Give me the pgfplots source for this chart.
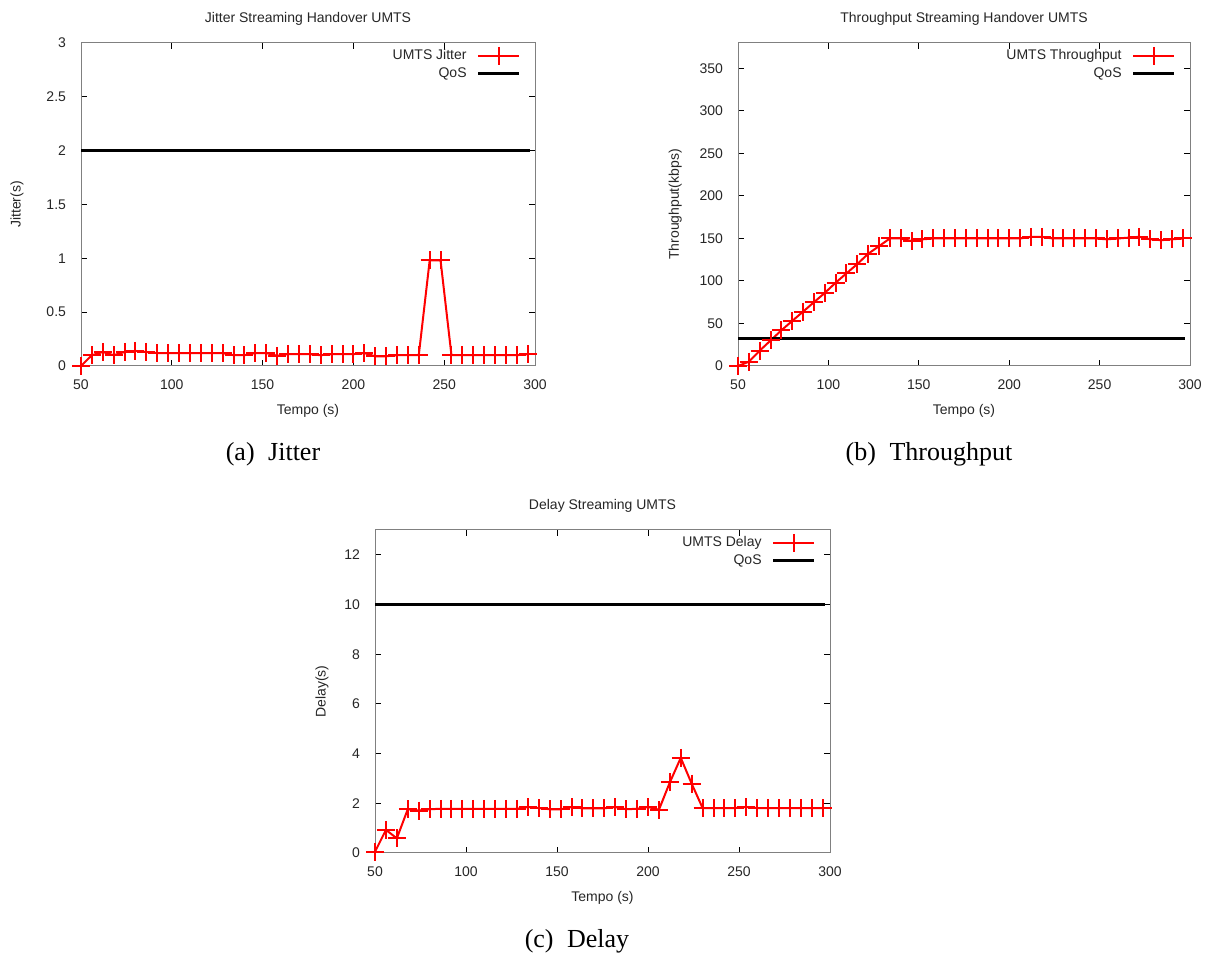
\documentclass[border=0pt]{standalone}
\usepackage{fontspec}
\setmainfont{Liberation Sans}
\newfontfamily\capfont{Liberation Serif}
\usepackage{pgfplots}
\pgfplotsset{compat=1.18}
\pgfplotsset{
  ucommon/.style={
    scale only axis,
    height=161.5pt,
    xmin=50, xmax=300, ymin=0,
    xtick={50,100,150,200,250,300},
    tick align=inside,
    major tick length=3pt,
    minor tick num=0,
    axis line style={draw=gray, line width=0.5pt},
    tick style={black, line width=0.5pt},
    /pgf/number format/assume math mode=true,
    tick label style={font=\fontsize{7}{8}\selectfont, text=black!85},
    xticklabel style={yshift=-3.5pt},
    yticklabel style={xshift=-4pt},
    label style={font=\fontsize{7}{8}\selectfont, text=black!85},
    title style={font=\fontsize{7}{8}\selectfont, text=black!85, at={(axis description cs:0.5,1.0805)}, anchor=center, yshift=-7pt},
    xlabel style={at={(axis description cs:0.5,-0.139)}, anchor=center},
    clip=false,
    legend plot pos=right,
    legend cell align=right,
    legend style={draw=none, fill=none, at={(axis description cs:1,1)}, anchor=north east,
      font=\fontsize{7}{8}\selectfont, text=black!85, row sep=-1.5pt, xshift=-4pt, yshift=1pt,
      /tikz/every odd column/.append style={column sep=3pt}},
    legend image code/.code={\draw[mark repeat=2,mark phase=2] plot coordinates {(0pt,0pt) (10.25pt,0pt) (20.5pt,0pt)};},
  },
  umts/.style={red, line width=1pt, mark=+, mark size=4.5pt, mark options={solid, line width=1pt}},
  qos/.style={black, line width=1.5pt, no markers},
}
\begin{document}
\begin{tikzpicture}
\useasboundingbox (0,0) rectangle (610pt,478pt);

% (a) Jitter
\begin{axis}[ucommon, width=227pt, at={(40.5pt,295pt)}, anchor=south west,
  ymax=3, ytick={0,0.5,1,1.5,2,2.5,3},
  title={Jitter Streaming Handover UMTS},
  xlabel={Tempo (s)}, ylabel={Jitter(s)},
  ylabel style={at={(axis description cs:-0.141,0.5)}, anchor=center},
]
\addplot[umts] coordinates {
(50,0) (56,0.10) (62,0.13) (68,0.10) (74,0.13) (80,0.14) (86,0.13) (92,0.12)
(98,0.12) (104,0.12) (110,0.12) (116,0.12) (122,0.12) (128,0.12) (134,0.10)
(140,0.10) (146,0.12) (152,0.12) (158,0.095) (164,0.11) (170,0.11) (176,0.11)
(182,0.10) (188,0.11) (194,0.11) (200,0.11) (206,0.12) (212,0.09) (218,0.09)
(224,0.10) (230,0.10) (236,0.10) (242,0.98) (248,0.98) (254,0.10) (260,0.10)
(266,0.10) (272,0.10) (278,0.10) (284,0.10) (290,0.10) (296,0.11)
};
\addlegendentry{UMTS Jitter}
\addplot[qos] coordinates {(50,2) (297,2)};
\addlegendentry{QoS}
\end{axis}

% (b) Throughput
\begin{axis}[ucommon, width=226pt, at={(369pt,295pt)}, anchor=south west,
  ymax=380, ytick={0,50,100,150,200,250,300,350},
  title={Throughput Streaming Handover UMTS},
  xlabel={Tempo (s)}, ylabel={Throughput(kbps)},
  ylabel style={at={(axis description cs:-0.139,0.5)}, anchor=center},
]
\addplot[umts] coordinates {
(50,0) (56,5) (62,18) (68,30) (74,42) (80,53) (86,64) (92,75) (98,86)
(104,98) (110,109) (116,120) (122,132) (128,141) (134,150) (140,150)
(146,147) (152,149) (158,150) (164,150) (170,150) (176,150) (182,150)
(188,150) (194,150) (200,150) (206,150) (212,152) (218,152) (224,150)
(230,150) (236,150) (242,150) (248,150) (254,149) (260,150) (266,151)
(272,152) (278,149) (284,148) (290,149) (296,150)
};
\addlegendentry{UMTS Throughput}
\addplot[qos] coordinates {(50,32) (297,32)};
\addlegendentry{QoS}
\end{axis}

% (c) Delay
\begin{axis}[ucommon, width=227.5pt, at={(187.5pt,51.5pt)}, anchor=south west,
  ymax=13, ytick={0,2,4,6,8,10,12},
  title={Delay Streaming UMTS},
  xlabel={Tempo (s)}, ylabel={Delay(s)},
  ylabel style={at={(axis description cs:-0.1165,0.5)}, anchor=center},
]
\addplot[umts] coordinates {
(50,0.05) (56,0.93) (62,0.59) (68,1.76) (74,1.71) (80,1.76) (86,1.78) (92,1.78)
(98,1.78) (104,1.78) (110,1.78) (116,1.78) (122,1.78) (128,1.78) (134,1.85)
(140,1.81) (146,1.76) (152,1.76) (158,1.85) (164,1.80) (170,1.80) (176,1.80)
(182,1.85) (188,1.76) (194,1.78) (200,1.85) (206,1.74) (212,2.84) (218,3.83)
(224,2.79) (230,1.81) (236,1.81) (242,1.81) (248,1.81) (254,1.85) (260,1.81)
(266,1.81) (272,1.81) (278,1.81) (284,1.81) (290,1.81) (296,1.81)
};
\addlegendentry{UMTS Delay}
\addplot[qos] coordinates {(50,10) (297,10)};
\addlegendentry{QoS}
\end{axis}

\node[anchor=base, font=\capfont\fontsize{13}{15}\selectfont] at (136.5pt,247.5pt) {(a)\hspace{3.5pt} Jitter};
\node[anchor=base, font=\capfont\fontsize{13}{15}\selectfont] at (464.5pt,247.5pt) {(b)\hspace{3.5pt} Throughput};
\node[anchor=base, font=\capfont\fontsize{13}{15}\selectfont] at (288.5pt,4pt) {(c)\hspace{3.5pt} Delay};
\end{tikzpicture}
\end{document}
